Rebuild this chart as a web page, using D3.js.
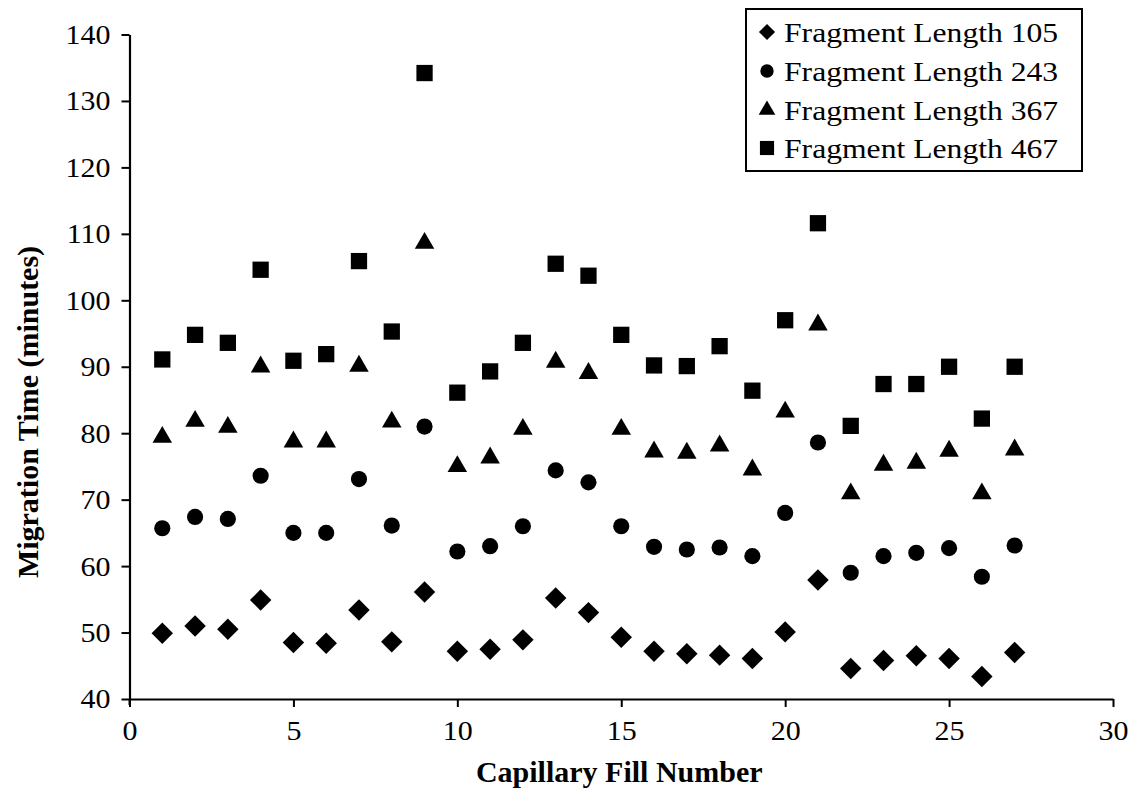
<!DOCTYPE html>
<html>
<head>
<meta charset="utf-8">
<script src="https://cdn.jsdelivr.net/npm/d3@7"></script>
<style>
  html, body { margin: 0; padding: 0; background: #fff; }
  svg { display: block; }
  text { font-family: "Liberation Serif", "Times New Roman", serif; fill: #000; }
</style>
</head>
<body>
<svg id="chart" width="1134" height="798"></svg>
<script>
// Capillary fill number for each run
const fillNumber = [1, 2, 3, 4, 5, 6, 7, 8, 9, 10, 11, 12, 13, 14, 15, 16, 17, 18, 19, 20, 21, 22, 23, 24, 25, 26, 27];

// Migration times (minutes) per fragment length
const frag105 = [49.9, 51.0, 50.5, 54.9, 48.5, 48.4, 53.4, 48.6, 56.1, 47.2, 47.5, 48.9, 55.2, 53.0, 49.3, 47.2, 46.8, 46.6, 46.1, 50.1, 57.9, 44.6, 45.8, 46.5, 46.1, 43.4, 47.0];
const frag243 = [65.7, 67.4, 67.1, 73.6, 65.0, 65.0, 73.1, 66.1, 81.0, 62.2, 63.0, 66.0, 74.4, 72.6, 66.0, 62.9, 62.5, 62.8, 61.5, 68.0, 78.6, 59.0, 61.5, 62.0, 62.7, 58.4, 63.1];
const frag367 = [79.4, 81.8, 80.9, 90.0, 78.7, 78.7, 90.1, 81.7, 108.6, 75.0, 76.3, 80.6, 90.7, 89.0, 80.6, 77.2, 77.0, 78.1, 74.5, 83.2, 96.3, 70.9, 75.2, 75.5, 77.3, 70.9, 77.5];
const frag467 = [91.1, 94.8, 93.6, 104.6, 90.9, 91.9, 105.9, 95.3, 134.2, 86.1, 89.3, 93.6, 105.5, 103.7, 94.8, 90.2, 90.1, 93.1, 86.4, 97.0, 111.6, 81.1, 87.4, 87.4, 90.0, 82.2, 90.0];

const seriesNames = ["Fragment Length 105", "Fragment Length 243", "Fragment Length 367", "Fragment Length 467"];
const xTicks = [0, 5, 10, 15, 20, 25, 30];
const yTicks = [40, 50, 60, 70, 80, 90, 100, 110, 120, 130, 140];
const xTitle = "Capillary Fill Number";
const yTitle = "Migration Time (minutes)";

// marker shapes: diamond (rotated square), circle, triangle, square
const shapes = [
  { type: d3.symbolSquare, size: 230, rotate: 45, legendSize: 130 },
  { type: d3.symbolCircle, size: 205, rotate: 0, legendSize: 140 },
  { type: d3.symbolTriangle, size: 165, rotate: 0, legendSize: 120 },
  { type: d3.symbolSquare, size: 265, rotate: 0, legendSize: 200 }
];
const seriesValues = [frag105, frag243, frag367, frag467];

const svg = d3.select("#chart");
const plot = { left: 129.5, right: 1113, top: 34.5, bottom: 699 };

const x = d3.scaleLinear().domain([0, 30]).range([plot.left, plot.right]);
const y = d3.scaleLinear().domain([40, 140]).range([plot.bottom, plot.top]);

// stretch glyphs horizontally to emulate the wider typeface
function widen(sel, factor) {
  sel.each(function () {
    const w = this.getComputedTextLength();
    this.setAttribute("textLength", (w * factor).toFixed(1));
    this.setAttribute("lengthAdjust", "spacingAndGlyphs");
  });
}

// y axis
const yAxis = svg.append("g")
  .attr("transform", `translate(${plot.left},0)`)
  .call(d3.axisLeft(y).tickValues(yTicks).tickSize(8).tickPadding(11).tickSizeOuter(0));
// x axis
const xAxis = svg.append("g")
  .attr("transform", `translate(0,${plot.bottom})`)
  .call(d3.axisBottom(x).tickValues(xTicks).tickSize(8).tickPadding(13).tickSizeOuter(0));

[yAxis, xAxis].forEach(g => {
  g.attr("font-family", null).attr("font-size", null);
  g.select(".domain").attr("stroke", "#000").attr("stroke-width", 2.2);
  g.selectAll(".tick line").attr("stroke", "#000").attr("stroke-width", 2);
  g.selectAll(".tick text")
    .style("font-family", '"Liberation Serif", "Times New Roman", serif')
    .style("font-size", "28px")
    .attr("fill", "#000");
});
widen(yAxis.selectAll(".tick text"), 1.07);
widen(xAxis.selectAll(".tick text"), 1.07);

// extend the y axis line slightly below the x axis
svg.append("line")
  .attr("x1", plot.left).attr("x2", plot.left)
  .attr("y1", plot.bottom).attr("y2", plot.bottom + 6)
  .attr("stroke", "#000").attr("stroke-width", 2);

// axis titles
svg.append("text")
  .attr("x", (plot.left + plot.right) / 2 - 2)
  .attr("y", 782)
  .attr("text-anchor", "middle")
  .style("font-size", "30px")
  .style("font-weight", "bold")
  .text(xTitle);

svg.append("text")
  .attr("transform", "translate(38,412) rotate(-90)")
  .attr("text-anchor", "middle")
  .style("font-size", "30px")
  .style("font-weight", "bold")
  .text(yTitle);

// data markers
const symbolGen = d3.symbol();
seriesValues.forEach((vals, si) => {
  const sh = shapes[si];
  svg.append("g")
    .selectAll("path")
    .data(vals.map((v, i) => ({ fill: fillNumber[i], value: v })))
    .join("path")
    .attr("transform", d => `translate(${x(d.fill)},${y(d.value)}) rotate(${sh.rotate})`)
    .attr("d", symbolGen.type(sh.type).size(sh.size)())
    .attr("fill", "#000");
});

// legend
const legend = svg.append("g");
legend.append("rect")
  .attr("x", 746).attr("y", 9)
  .attr("width", 336).attr("height", 162)
  .attr("fill", "#fff")
  .attr("stroke", "#000")
  .attr("stroke-width", 2);

const rowY = [32, 71, 110, 148];
seriesNames.forEach((name, i) => {
  const sh = shapes[i];
  legend.append("path")
    .attr("transform", `translate(767,${rowY[i]}) rotate(${sh.rotate})`)
    .attr("d", d3.symbol().type(sh.type).size(sh.legendSize)())
    .attr("fill", "#000");
  legend.append("text")
    .attr("x", 784)
    .attr("y", rowY[i] + 10)
    .style("font-size", "28px")
    .text(name);
});
widen(legend.selectAll("text"), 1.13);
</script>
</body>
</html>
